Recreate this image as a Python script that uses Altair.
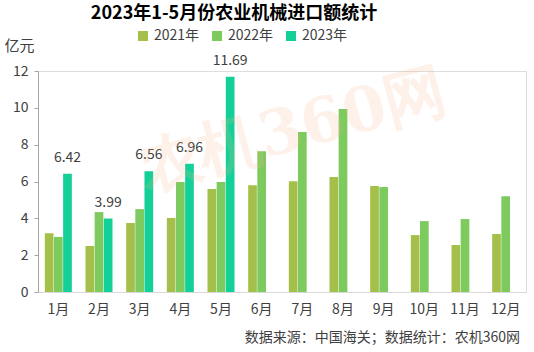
import altair as alt
import pandas as pd

months = ["1月", "2月", "3月", "4月", "5月", "6月", "7月", "8月", "9月", "10月", "11月", "12月"]
series = ["2021年", "2022年", "2023年"]
v2021 = [3.19, 2.50, 3.75, 4.02, 5.59, 5.80, 6.02, 6.24, 5.76, 3.09, 2.55, 3.15]
v2022 = [2.99, 4.34, 4.50, 5.97, 5.97, 7.64, 8.69, 9.93, 5.70, 3.85, 3.96, 5.20]
v2023 = [6.42, 3.99, 6.56, 6.96, 11.69]
colors = ["#A5C04A", "#7DCA5F", "#13CF98"]

rows = []
for m, a, b in zip(months, v2021, v2022):
    rows.append({"month": m, "year": "2021年", "value": a})
    rows.append({"month": m, "year": "2022年", "value": b})
for m, c in zip(months, v2023):
    rows.append({"month": m, "year": "2023年", "value": c})
df = pd.DataFrame(rows)
df23 = df[df.year == "2023年"].copy()

FONT = "Noto Sans CJK SC"

x = alt.X("month:N", sort=months, title=None,
          scale=alt.Scale(paddingInner=0.336, paddingOuter=0.168),
          axis=alt.Axis(labelAngle=0, ticks=False, labelPadding=10, labelFontSize=14,
                        labelColor="#404040", domainColor="#D9D9D9", labelFont=FONT))
xo = alt.XOffset("year:N", scale=alt.Scale(domain=series, paddingInner=0.05))
y = alt.Y("value:Q", title="亿元",
          scale=alt.Scale(domain=[0, 12]),
          axis=alt.Axis(values=[0, 2, 4, 6, 8, 10, 12], grid=False, tickSize=4,
                        labelOverlap=False,
                        tickColor="#A6A6A6", domainColor="#A6A6A6",
                        labelFontSize=14, labelColor="#404040", labelPadding=6,
                        titleAngle=0, titleX=-34, titleY=-26, titleAlign="left",
                        titleBaseline="middle", titleFontSize=15, titleFontWeight="normal",
                        titleColor="#404040", labelFont=FONT, titleFont=FONT))

bars = alt.Chart(df).mark_bar().encode(
    x=x, xOffset=xo, y=y,
    color=alt.Color("year:N", scale=alt.Scale(domain=series, range=colors),
                    legend=alt.Legend(title=None, orient="none", direction="horizontal",
                                      legendX=98, legendY=-42, symbolType="square",
                                      symbolSize=100, labelFontSize=14, labelColor="#404040",
                                      labelFont=FONT, columnPadding=10, symbolStrokeWidth=0,
                                      symbolOpacity=1))
)

labels = alt.Chart(df23).mark_text(dy=-9, baseline="bottom", fontSize=14, color="#404040",
                                   font=FONT).encode(
    x=x,
    xOffset=xo,
    y=y,
    text=alt.Text("value:Q", format=".2f"),
)

watermark = alt.Chart(pd.DataFrame({"t": ["农机360网"]})).mark_text(
    font="DejaVu Serif", fontWeight="bold", fontSize=62, angle=345,
    color="#F7B889", opacity=0.18, align="center", baseline="middle"
).encode(x=alt.value(255), y=alt.value(60), text="t:N")

source = alt.Chart(pd.DataFrame({"t": ["数据来源：中国海关；数据统计：农机360网"]})).mark_text(
    fontSize=14, color="#404040", align="right", baseline="middle", font=FONT
).encode(x=alt.value(482), y=alt.value(267), text="t:N")

chart = alt.layer(bars, labels, watermark, source).properties(
    width=488, height=221,
    title=alt.TitleParams("2023年1-5月份农业机械进口额统计", fontSize=18, fontWeight="bold",
                          font=FONT, color="#000000", anchor="middle", dx=-48, offset=6),
    autosize=alt.AutoSizeParams(type="none"),
    padding={"left": 38, "top": 71, "right": 8, "bottom": 60},
).configure_view(stroke=None).configure(background="white")

chart.save("out.html", embed_options={"renderer": "svg", "actions": False})
